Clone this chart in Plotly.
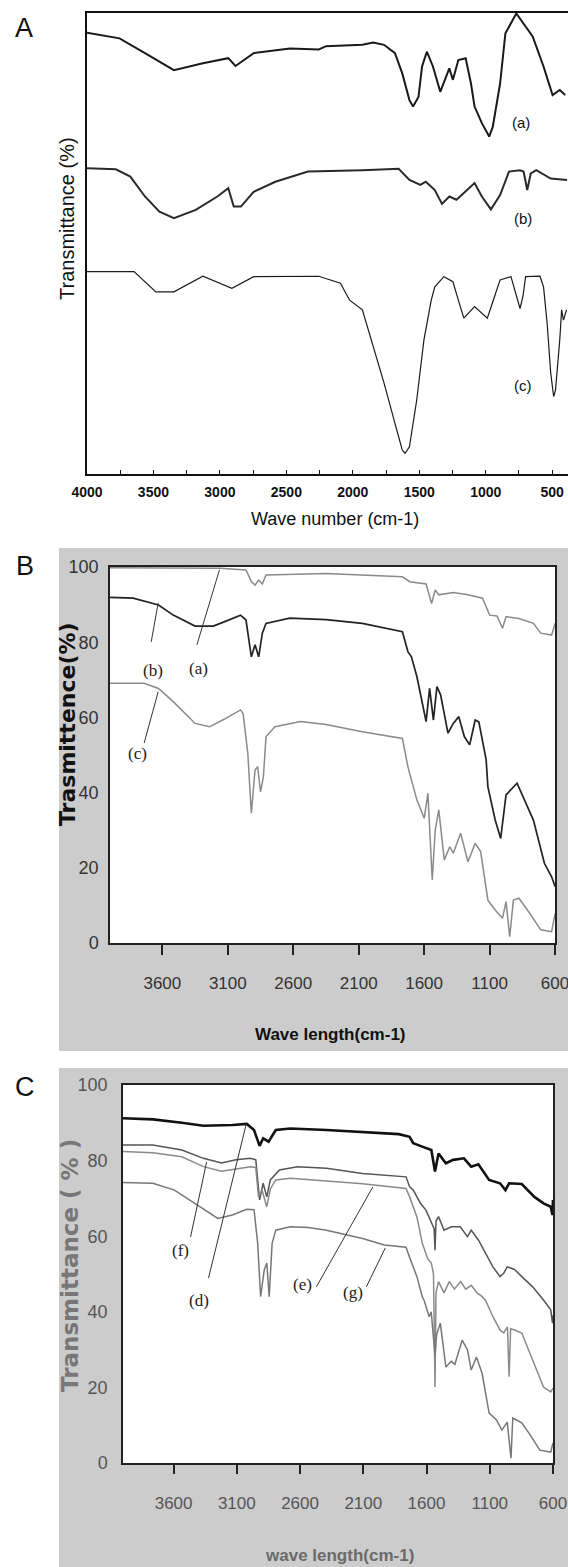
import plotly.graph_objects as go

W, H = 568, 1567

# ---------------- panel A (arbitrary transmittance scale) ----------------
a_a_wn = [4000, 3755, 3564, 3373, 3346, 3128, 2937, 2883, 2842, 2746, 2473, 2256, 2201, 1928, 1847,
          1765, 1683, 1628, 1574, 1547, 1506, 1479, 1443, 1397, 1342, 1301, 1274, 1247, 1206, 1151,
          1111, 1084, 1029, 974, 947, 892, 852, 770, 647, 565, 497, 443, 402]
a_a_t = [95.7, 94.5, 91.3, 88.0, 87.6, 89.1, 90.2, 88.5, 89.4, 91.3, 92.3, 92.1, 92.8, 93.1, 93.6,
         93.1, 91.3, 86.9, 81.1, 79.7, 81.8, 88.4, 91.6, 88.4, 82.9, 86.2, 88.0, 85.5, 89.8, 90.2,
         84.7, 79.7, 76.1, 73.2, 75.3, 84.7, 95.6, 99.9, 94.9, 88.4, 82.2, 83.3, 82.2]

a_b_wn = [4000, 3783, 3674, 3564, 3455, 3346, 3182, 3019, 2937, 2896, 2842, 2746, 2583, 2337, 1928,
          1655, 1574, 1492, 1451, 1383, 1329, 1274, 1220, 1138, 1084, 1029, 961, 892, 825, 743,
          715, 688, 661, 620, 511, 388]
a_b_t = [66.3, 66.1, 64.5, 60.2, 56.9, 55.5, 57.3, 60.2, 62.0, 58.0, 58.0, 61.2, 63.4, 65.6, 65.9,
         66.2, 63.8, 62.7, 63.4, 61.6, 58.6, 60.2, 59.5, 61.6, 63.1, 60.2, 57.4, 60.5, 65.6, 65.9,
         65.6, 61.6, 65.2, 65.9, 64.1, 63.8]

a_c_wn = [4000, 3646, 3482, 3346, 3128, 2910, 2746, 2256, 2093, 2024, 1928, 1847, 1765, 1683, 1628,
          1607, 1574, 1519, 1465, 1410, 1383, 1315, 1247, 1206, 1165, 1084, 988, 943, 892, 810,
          770, 742, 720, 700, 592, 565, 538, 511, 489, 475, 443, 429, 415, 392]
a_c_t = [43.9, 43.9, 39.5, 39.5, 42.9, 40.3, 42.8, 42.9, 41.4, 37.7, 35.6, 27.6, 19.7, 11.0, 5.2,
         4.5, 5.9, 16.1, 29.1, 37.7, 40.6, 42.8, 41.7, 37.7, 33.8, 36.3, 33.8, 37.7, 42.1, 42.8,
         38.5, 35.9, 38.5, 42.8, 42.9, 40.6, 32.7, 21.9, 16.8, 18.2, 29.1, 35.6, 33.4, 35.6]

# ---------------- panel B ----------------
b_a_wn = [4000, 3629, 3156, 2961, 2920, 2892, 2864, 2836, 2808, 2350, 2072, 1766, 1710, 1585, 1543,
          1515, 1488, 1377, 1265, 1154, 1099, 1043, 1001, 974, 876, 765, 709, 626, 599]
b_a_t = [99.8, 99.8, 99.7, 99.2, 96.1, 95.2, 96.5, 95.5, 97.9, 98.3, 97.9, 97.4, 96.1, 95.5, 90.3,
         93.9, 92.6, 93.2, 92.6, 91.7, 87.2, 87.0, 83.7, 86.8, 86.3, 85.0, 82.4, 81.9, 85.0]

b_b_wn = [4000, 3823, 3629, 3517, 3350, 3211, 3128, 3003, 2961, 2920, 2892, 2864, 2836, 2808, 2627,
          2350, 2072, 1766, 1724, 1697, 1655, 1613, 1585, 1558, 1529, 1502, 1474, 1418, 1377, 1335,
          1293, 1252, 1210, 1182, 1126, 1113, 1057, 1015, 974, 890, 820, 765, 681, 626, 599]
b_b_t = [91.9, 91.7, 89.9, 87.2, 84.3, 84.3, 85.4, 87.2, 85.9, 76.1, 79.3, 76.1, 82.4, 85.0, 86.4,
         86.0, 85.0, 82.8, 77.5, 76.1, 70.8, 63.7, 58.9, 67.7, 59.3, 68.2, 66.0, 55.8, 58.4, 60.2,
         54.9, 52.7, 59.3, 58.8, 48.7, 41.6, 32.7, 27.8, 39.4, 42.5, 37.2, 32.7, 21.2, 17.6, 15.0]

b_c_wn = [4000, 3740, 3629, 3517, 3350, 3240, 3128, 3003, 2983, 2947, 2920, 2892, 2872, 2850, 2828,
          2808, 2739, 2544, 2350, 2072, 1766, 1724, 1697, 1655, 1599, 1571, 1538, 1515, 1488, 1446,
          1404, 1377, 1321, 1265, 1210, 1168, 1113, 1057, 1001, 974, 946, 918, 876, 793, 709,
          626, 599]
b_c_t = [69.1, 69.1, 67.7, 64.2, 58.4, 57.5, 59.5, 62.0, 61.0, 50.4, 34.5, 46.0, 46.9, 40.2, 44.2,
         54.9, 57.5, 58.9, 58.1, 56.2, 54.4, 46.9, 43.4, 38.0, 33.2, 39.8, 16.8, 30.1, 35.4, 22.1,
         25.6, 23.9, 29.2, 21.6, 26.5, 24.3, 11.4, 8.8, 6.6, 11.0, 1.7, 11.4, 11.9, 7.9, 3.5,
         3.0, 7.9]

# ---------------- panel C ----------------
c_d_wn = [4000, 3764, 3535, 3364, 3135, 3021, 2964, 2920, 2892, 2849, 2792, 2677, 2391, 2106, 1819,
          1734, 1705, 1634, 1562, 1533, 1505, 1447, 1390, 1304, 1247, 1190, 1105, 1019, 976, 947,
          847, 747, 675, 618, 604, 600]
c_d_t = [91.2, 90.9, 90.0, 89.2, 89.4, 89.7, 88.1, 83.9, 85.9, 85.0, 88.1, 88.5, 88.1, 87.6, 87.0,
         86.3, 84.6, 83.7, 82.8, 77.1, 81.9, 79.3, 80.2, 80.6, 78.4, 79.0, 74.9, 74.0, 72.2, 74.0,
         73.8, 70.4, 68.7, 67.8, 65.6, 69.6]

c_f_wn = [4000, 3764, 3535, 3364, 3221, 3107, 2992, 2950, 2920, 2892, 2863, 2835, 2763, 2620, 2391,
          2106, 1762, 1734, 1705, 1648, 1605, 1562, 1540, 1533, 1525, 1505, 1462, 1404, 1334, 1276,
          1247, 1190, 1133, 1075, 1019, 990, 962, 904, 847, 761, 675, 618, 604, 600]
c_f_t = [84.1, 84.1, 82.8, 80.6, 79.4, 80.2, 80.6, 80.2, 69.6, 74.0, 70.4, 74.9, 77.5, 78.4, 78.0,
         76.6, 75.7, 73.1, 72.2, 68.7, 66.9, 63.4, 62.0, 56.3, 64.0, 65.2, 61.6, 62.5, 62.5, 59.9,
         61.6, 59.0, 55.5, 51.9, 49.3, 50.2, 51.9, 51.2, 49.3, 46.6, 43.1, 40.5, 37.0, 39.0]

c_e_wn = [4000, 3764, 3535, 3364, 3221, 3107, 2992, 2950, 2929, 2901, 2863, 2835, 2792, 2677, 2391,
          2106, 1762, 1734, 1676, 1634, 1590, 1562, 1545, 1533, 1525, 1505, 1462, 1420, 1380, 1330,
          1290, 1247, 1200, 1160, 1133, 1075, 1019, 990, 960, 947, 935, 904, 847, 761, 675,
          618, 600]
c_e_t = [82.4, 82.1, 81.0, 78.4, 77.2, 77.7, 78.4, 78.2, 70.4, 72.2, 67.8, 72.5, 74.9, 75.3, 74.6,
         73.9, 72.6, 70.4, 65.1, 58.2, 54.0, 52.9, 50.0, 20.1, 45.0, 48.0, 45.0, 48.0, 46.0, 48.0,
         46.0, 47.0, 45.0, 44.0, 43.0, 38.7, 35.2, 34.4, 36.0, 22.8, 35.5, 35.2, 34.4, 27.2, 20.1,
         18.8, 19.8]

c_g_wn = [4000, 3764, 3593, 3450, 3308, 3250, 3135, 3021, 2964, 2935, 2912, 2883, 2863, 2844, 2821,
          2792, 2677, 2534, 2391, 2249, 2106, 1934, 1762, 1734, 1676, 1634, 1619, 1579, 1563, 1533,
          1520, 1491, 1447, 1405, 1376, 1318, 1276, 1247, 1205, 1161, 1105, 1047, 1004, 962, 932,
          918, 847, 790, 704, 618, 600]
c_g_t = [74.2, 74.0, 72.2, 69.1, 66.0, 64.7, 65.6, 67.1, 67.0, 58.1, 44.0, 51.1, 52.9, 44.0, 58.1,
         61.6, 62.5, 62.3, 61.6, 60.6, 59.4, 57.7, 57.1, 54.4, 49.3, 44.0, 43.0, 38.7, 40.0, 28.4,
         34.0, 37.0, 25.4, 26.9, 26.1, 32.5, 29.9, 24.6, 28.0, 23.8, 13.2, 11.4, 8.7, 10.8, 1.3,
         11.9, 10.6, 7.9, 3.4, 2.9, 5.3]

a_ticks = [4000, 3500, 3000, 2500, 2000, 1500, 1000, 500]
a_minor = [3750, 3250, 2750, 2250, 1750, 1250, 750]
bc_ticks = [3600, 3100, 2600, 2100, 1600, 1100, 600]
bc_yticks = [0, 20, 40, 60, 80, 100]

SANS = "Arial, Liberation Sans, sans-serif"
NARROW = "Liberation Sans Narrow, Arial Narrow, Liberation Sans, sans-serif"
SERIF = "Liberation Serif, Times New Roman, serif"


def px(x):
    return x / W


def py(y):
    return 1 - y / H


fig = go.Figure()

for wn, t, col, lw in [(a_a_wn, a_a_t, "#1a1a1a", 2.0), (a_b_wn, a_b_t, "#2a2a2a", 2.0),
                       (a_c_wn, a_c_t, "#1a1a1a", 1.2)]:
    fig.add_trace(go.Scatter(x=wn, y=t, mode="lines", line=dict(color=col, width=lw),
                             xaxis="x", yaxis="y", hoverinfo="skip"))
for wn, t, col, lw in [(b_a_wn, b_a_t, "#8a8a8a", 1.5), (b_b_wn, b_b_t, "#222222", 1.7),
                       (b_c_wn, b_c_t, "#8a8a8a", 1.5)]:
    fig.add_trace(go.Scatter(x=wn, y=t, mode="lines", line=dict(color=col, width=lw),
                             xaxis="x2", yaxis="y2", hoverinfo="skip"))
for wn, t, col, lw in [(c_d_wn, c_d_t, "#111111", 2.6), (c_f_wn, c_f_t, "#555555", 1.5),
                       (c_e_wn, c_e_t, "#8a8a8a", 1.5), (c_g_wn, c_g_t, "#777777", 1.5)]:
    fig.add_trace(go.Scatter(x=wn, y=t, mode="lines", line=dict(color=col, width=lw),
                             xaxis="x3", yaxis="y3", hoverinfo="skip"))

# gray panels behind B and C, with white plotting areas
shapes = []
for (x0, y0, x1, y1) in [(59, 548, 568, 1051), (59, 1068, 568, 1567)]:
    shapes.append(dict(type="rect", xref="paper", yref="paper", x0=px(x0), x1=px(x1),
                       y0=py(y1), y1=py(y0), fillcolor="#cccccc", line=dict(width=0), layer="below"))
for (x0, y0, x1, y1) in [(110, 567, 555, 943), (123, 1085, 553, 1463)]:
    shapes.append(dict(type="rect", xref="paper", yref="paper", x0=px(x0), x1=px(x1),
                       y0=py(y1), y1=py(y0), fillcolor="white", line=dict(width=0), layer="below"))

# leader lines for the curve labels (data coordinates)
for xr, yr, x0, y0, x1, y1 in [
    ("x2", "y2", 3685, 80.1, 3632, 90.4),
    ("x2", "y2", 3336, 79.3, 3164, 99.2),
    ("x2", "y2", 3739, 53.2, 3632, 66.8),
    ("x3", "y3", 3466, 59.8, 3339, 79.6),
    ("x3", "y3", 3324, 48.9, 3024, 89.9),
    ("x3", "y3", 2471, 46.6, 2025, 73.0),
    ("x3", "y3", 2076, 46.6, 1926, 56.9),
]:
    shapes.append(dict(type="line", xref=xr, yref=yr, x0=x0, y0=y0, x1=x1, y1=y1,
                       line=dict(color="#333333", width=1)))

ann = []


def text(x, y, s, size, family=SANS, color="#111111", angle=0, ref=None):
    if ref:
        ann.append(dict(x=x, y=y, xref=ref[0], yref=ref[1], text=s, showarrow=False,
                        font=dict(size=size, family=family, color=color), textangle=angle))
    else:
        ann.append(dict(x=px(x), y=py(y), xref="paper", yref="paper", text=s, showarrow=False,
                        xanchor="center", yanchor="middle",
                        font=dict(size=size, family=family, color=color), textangle=angle))


text(24, 28, "A", 27)
text(25, 566, "B", 27)
text(25, 1087, "C", 27)

text(67, 219, "Transmittance (%)", 20, angle=-90)
text(335, 519, "Wave number (cm-1)", 18)
text(737, 76.2, "(a)", 15, ref=("x", "y"))
text(723, 55.5, "(b)", 15, ref=("x", "y"))
text(716, 19.3, "(c)", 15, ref=("x", "y"))

text(67, 724, "<b>Trasmittence(%)</b>", 22, family="DejaVu Sans, sans-serif", angle=-90)
text(331, 1034, "<b>Wave length(cm-1)</b>", 17, family=NARROW)
text(3670, 72.6, "(b)", 17, family=SERIF, color="#222222", ref=("x2", "y2"))
text(3325, 73.1, "(a)", 17, family=SERIF, color="#222222", ref=("x2", "y2"))
text(3793, 50.5, "(c)", 17, family=SERIF, color="#222222", ref=("x2", "y2"))

text(70, 1266, "<b>Transmittance ( % )</b>", 23, family="DejaVu Sans, sans-serif",
     color="#777777", angle=-90)
text(339, 1555, "<b>wave length(cm-1)</b>", 17, family=NARROW, color="#6a6a6a")
text(3545, 56.3, "(f)", 17, family=SERIF, color="#222222", ref=("x3", "y3"))
text(3398, 43.1, "(d)", 17, family=SERIF, color="#222222", ref=("x3", "y3"))
text(2578, 47.1, "(e)", 17, family=SERIF, color="#222222", ref=("x3", "y3"))
text(2179, 45.2, "(g)", 17, family=SERIF, color="#222222", ref=("x3", "y3"))

common = dict(showgrid=False, zeroline=False, automargin=False)

fig.update_layout(
    width=W, height=H, autosize=False, showlegend=False,
    margin=dict(l=0, r=0, t=0, b=0, pad=0),
    paper_bgcolor="white", plot_bgcolor="rgba(0,0,0,0)",
    shapes=shapes, annotations=ann,
    xaxis=dict(domain=[px(87), 1.0], range=[4000, 381], anchor="y", **common,
               showline=True, linecolor="#111111", linewidth=2, mirror=True,
               tickmode="array", tickvals=a_ticks, ticktext=[str(v) for v in a_ticks],
               ticks="inside", ticklen=4, tickcolor="#111111",
               minor=dict(tickvals=a_minor, ticks="inside", ticklen=4, tickcolor="#111111"),
               tickfont=dict(size=14, family=SANS, color="#111111", weight="bold"),
               ticklabelstandoff=4, ticklabeloverflow="allow"),
    yaxis=dict(domain=[py(474), py(13)], range=[0, 100], anchor="x", **common,
               showline=True, linecolor="#111111", linewidth=2, showticklabels=False, ticks=""),
    xaxis2=dict(domain=[px(110), px(555)], range=[4000, 600], anchor="y2", **common,
                showline=True, linecolor="#222222", linewidth=1.5, mirror=True,
                tickmode="array", tickvals=bc_ticks, ticks="outside", ticklen=10,
                tickcolor="#222222", tickwidth=1.5,
                tickfont=dict(size=17, family=NARROW, color="#333333"), ticklabelstandoff=14,
                ticklabeloverflow="allow"),
    yaxis2=dict(domain=[py(943), py(567)], range=[0, 100], anchor="x2", **common,
                showline=True, linecolor="#222222", linewidth=1.5, mirror=True,
                tickmode="array", tickvals=bc_yticks, ticks="",
                tickfont=dict(size=18, family=NARROW, color="#333333"), ticklabelstandoff=6),
    xaxis3=dict(domain=[px(123), px(553)], range=[4000, 600], anchor="y3", **common,
                showline=True, linecolor="#222222", linewidth=1.5, mirror=True,
                tickmode="array", tickvals=bc_ticks, ticks="outside", ticklen=9,
                tickcolor="#222222", tickwidth=1.5,
                tickfont=dict(size=17, family=NARROW, color="#555555"), ticklabelstandoff=15,
                ticklabeloverflow="allow"),
    yaxis3=dict(domain=[py(1463), py(1085)], range=[0, 100], anchor="x3", **common,
                showline=True, linecolor="#222222", linewidth=1.5, mirror=True,
                tickmode="array", tickvals=bc_yticks, ticks="",
                tickfont=dict(size=18, family=NARROW, color="#555555"), ticklabelstandoff=10),
)

# drop the default page margin so the 568x1567 figure fills the window exactly,
# and keep the hover toolbar out of the picture
fig.write_html("out.html", config={"displayModeBar": False},
               post_script="document.body.style.margin='0';document.body.style.overflow='hidden';")
